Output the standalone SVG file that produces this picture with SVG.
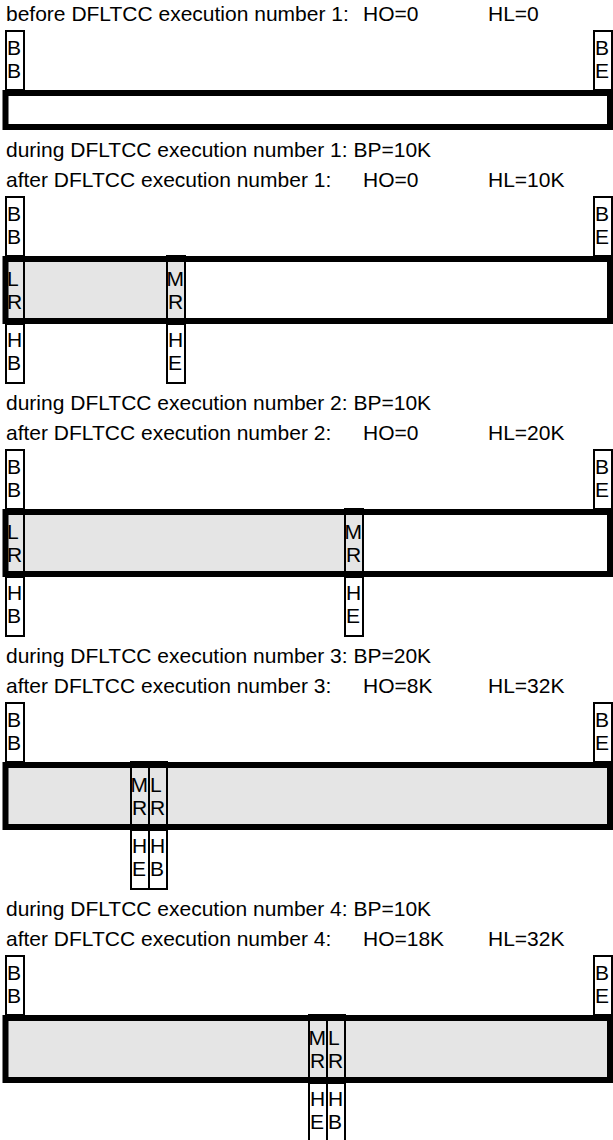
<svg xmlns="http://www.w3.org/2000/svg" width="613" height="1140" viewBox="0 0 613 1140">
<style>
.t{font-family:"Liberation Sans",Arial,Helvetica,sans-serif;font-size:21px;fill:#000}
.cell{fill:none;stroke:#000;stroke-width:2}
.bar{fill:none;stroke:#000;stroke-width:6}
.used{fill:#e5e5e5;stroke:none}
</style>
<rect width="613" height="1140" fill="#fff"/>

<!-- Section 1 -->
<g id="s1">
<text class="t" x="6" y="21">before DFLTCC execution number 1:</text>
<text class="t" x="363" y="21">HO=0</text>
<text class="t" x="488" y="21">HL=0</text>
<g id="s1-bb"><rect class="cell" x="6" y="31" width="18" height="59"/><text class="t" x="7" y="55">B</text><text class="t" x="7" y="78">B</text></g>
<g id="s1-be"><rect class="cell" x="594" y="31" width="18" height="59"/><text class="t" x="595" y="55">B</text><text class="t" x="595" y="78">E</text></g>
<rect id="s1-bar" class="bar" x="5.5" y="93" width="604.5" height="34"/>
<text class="t" x="6" y="157">during DFLTCC execution number 1: BP=10K</text>
</g>

<!-- Section 2 -->
<g id="s2">
<text class="t" x="6" y="187">after DFLTCC execution number 1:</text>
<text class="t" x="363" y="187">HO=0</text>
<text class="t" x="488" y="187">HL=10K</text>
<g id="s2-bb"><rect class="cell" x="6" y="197" width="18" height="59"/><text class="t" x="7" y="221">B</text><text class="t" x="7" y="244">B</text></g>
<g id="s2-be"><rect class="cell" x="594" y="197" width="18" height="59"/><text class="t" x="595" y="221">B</text><text class="t" x="595" y="244">E</text></g>
<rect class="used" x="8" y="259" width="177" height="62"/>
<g id="s2-lr"><rect class="cell" x="6" y="256" width="18" height="68"/><text class="t" x="7" y="286">L</text><text class="t" x="7" y="309">R</text></g>
<g id="s2-mr"><rect class="cell" x="167" y="256" width="18" height="68"/><text class="t" x="166.5" y="286">M</text><text class="t" x="168" y="309">R</text></g>
<rect id="s2-bar" class="bar" x="5.5" y="259" width="604.5" height="62"/>
<g id="s2-hb"><rect class="cell" x="6" y="324" width="18" height="59"/><text class="t" x="7" y="347">H</text><text class="t" x="7" y="370">B</text></g>
<g id="s2-he"><rect class="cell" x="167" y="324" width="18" height="59"/><text class="t" x="168" y="347">H</text><text class="t" x="168" y="370">E</text></g>
<text class="t" x="6" y="410">during DFLTCC execution number 2: BP=10K</text>
</g>

<!-- Section 3 -->
<g id="s3">
<text class="t" x="6" y="440">after DFLTCC execution number 2:</text>
<text class="t" x="363" y="440">HO=0</text>
<text class="t" x="488" y="440">HL=20K</text>
<g id="s3-bb"><rect class="cell" x="6" y="450" width="18" height="59"/><text class="t" x="7" y="474">B</text><text class="t" x="7" y="497">B</text></g>
<g id="s3-be"><rect class="cell" x="594" y="450" width="18" height="59"/><text class="t" x="595" y="474">B</text><text class="t" x="595" y="497">E</text></g>
<rect class="used" x="8" y="512" width="355" height="62"/>
<g id="s3-lr"><rect class="cell" x="6" y="509" width="18" height="68"/><text class="t" x="7" y="539">L</text><text class="t" x="7" y="562">R</text></g>
<g id="s3-mr"><rect class="cell" x="345" y="509" width="18" height="68"/><text class="t" x="344.5" y="539">M</text><text class="t" x="346" y="562">R</text></g>
<rect id="s3-bar" class="bar" x="5.5" y="512" width="604.5" height="62"/>
<g id="s3-hb"><rect class="cell" x="6" y="577" width="18" height="59"/><text class="t" x="7" y="600">H</text><text class="t" x="7" y="623">B</text></g>
<g id="s3-he"><rect class="cell" x="345" y="577" width="18" height="59"/><text class="t" x="346" y="600">H</text><text class="t" x="346" y="623">E</text></g>
<text class="t" x="6" y="663">during DFLTCC execution number 3: BP=20K</text>
</g>

<!-- Section 4 -->
<g id="s4">
<text class="t" x="6" y="693">after DFLTCC execution number 3:</text>
<text class="t" x="363" y="693">HO=8K</text>
<text class="t" x="488" y="693">HL=32K</text>
<g id="s4-bb"><rect class="cell" x="6" y="703" width="18" height="59"/><text class="t" x="7" y="727">B</text><text class="t" x="7" y="750">B</text></g>
<g id="s4-be"><rect class="cell" x="594" y="703" width="18" height="59"/><text class="t" x="595" y="727">B</text><text class="t" x="595" y="750">E</text></g>
<rect class="used" x="8" y="765" width="600" height="62"/>
<g id="s4-mr"><rect class="cell" x="131" y="762" width="18" height="68"/><text class="t" x="130.5" y="792">M</text><text class="t" x="132" y="815">R</text></g>
<g id="s4-lr"><rect class="cell" x="149" y="762" width="18" height="68"/><text class="t" x="150" y="792">L</text><text class="t" x="150" y="815">R</text></g>
<rect id="s4-bar" class="bar" x="5.5" y="765" width="604.5" height="62"/>
<g id="s4-he"><rect class="cell" x="131" y="830" width="18" height="59"/><text class="t" x="132" y="853">H</text><text class="t" x="132" y="876">E</text></g>
<g id="s4-hb"><rect class="cell" x="149" y="830" width="18" height="59"/><text class="t" x="150" y="853">H</text><text class="t" x="150" y="876">B</text></g>
<text class="t" x="6" y="916">during DFLTCC execution number 4: BP=10K</text>
</g>

<!-- Section 5 -->
<g id="s5">
<text class="t" x="6" y="946">after DFLTCC execution number 4:</text>
<text class="t" x="363" y="946">HO=18K</text>
<text class="t" x="488" y="946">HL=32K</text>
<g id="s5-bb"><rect class="cell" x="6" y="956" width="18" height="59"/><text class="t" x="7" y="980">B</text><text class="t" x="7" y="1003">B</text></g>
<g id="s5-be"><rect class="cell" x="594" y="956" width="18" height="59"/><text class="t" x="595" y="980">B</text><text class="t" x="595" y="1003">E</text></g>
<rect class="used" x="8" y="1018" width="600" height="62"/>
<g id="s5-mr"><rect class="cell" x="309" y="1015" width="18" height="68"/><text class="t" x="308.5" y="1045">M</text><text class="t" x="310" y="1068">R</text></g>
<g id="s5-lr"><rect class="cell" x="327" y="1015" width="18" height="68"/><text class="t" x="328" y="1045">L</text><text class="t" x="328" y="1068">R</text></g>
<rect id="s5-bar" class="bar" x="5.5" y="1018" width="604.5" height="62"/>
<g id="s5-he"><rect class="cell" x="309" y="1083" width="18" height="59"/><text class="t" x="310" y="1106">H</text><text class="t" x="310" y="1129">E</text></g>
<g id="s5-hb"><rect class="cell" x="327" y="1083" width="18" height="59"/><text class="t" x="328" y="1106">H</text><text class="t" x="328" y="1129">B</text></g>
</g>
</svg>
